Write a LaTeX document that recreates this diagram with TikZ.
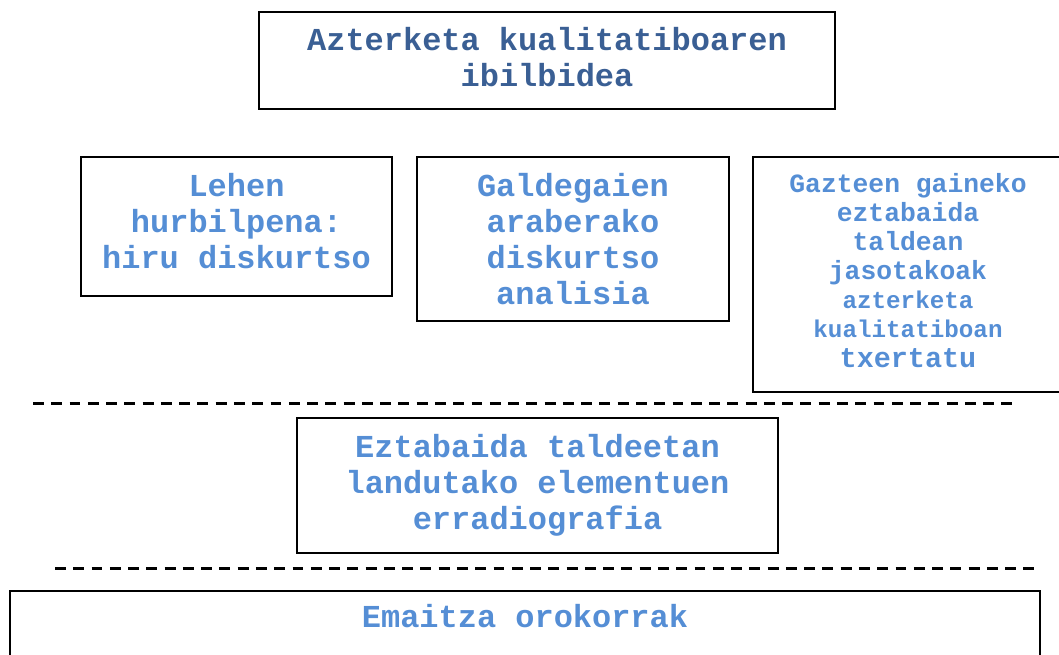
\documentclass[tikz,border=0pt]{standalone}
\usepackage{fontspec}
\setmonofont{Liberation Mono}
\definecolor{darkblue}{HTML}{3A5F94}
\definecolor{lightblue}{HTML}{558ED5}
\tikzset{
  stage/.style={draw, line width=1.1pt, text=lightblue, align=center, inner sep=0pt,
    font=\ttfamily\bfseries\fontsize{18.2}{20.4}\selectfont},
  cutline/.style={line width=1.7pt, dash pattern=on 6.2pt off 4.2pt}
}
\newcommand{\smallline}[1]{{\fontsize{13.8}{16.6}\selectfont #1}}
\begin{document}
\begin{tikzpicture}[x=0.02cm,y=-0.02cm]
\useasboundingbox (0,0) rectangle (1059,654);
\clip (0,0) rectangle (1059,654);
\node[stage, text=darkblue, minimum width=11.52cm, minimum height=1.94cm, text depth=4pt] (ibilbidea) at (547,60.5) {Azterketa kualitatiboaren\\ibilbidea};
\node[stage, minimum width=6.22cm, minimum height=2.78cm, text depth=6pt] (hurbilpena) at (236.5,226.5) {Lehen\\hurbilpena:\\hiru diskurtso};
\node[stage, minimum width=6.24cm, minimum height=3.28cm] (analisia) at (573,239) {Galdegaien\\araberako\\diskurtso\\analisia};
\node[stage, minimum width=6.2cm, minimum height=4.7cm, text depth=5pt,
  font=\ttfamily\bfseries\fontsize{15}{16.6}\selectfont] (txertatu) at (908,274.5)
  {Gazteen gaineko\\eztabaida\\taldean\\jasotakoak\\\smallline{azterketa}\\\smallline{kualitatiboan}\\{\fontsize{16.2}{16.6}\selectfont txertatu}};
\coordinate (lerroa1a) at (33,403);
\coordinate (lerroa1b) at (1015,403);
\draw[cutline] (lerroa1a) -- (lerroa1b);
\node[stage, minimum width=9.62cm, minimum height=2.7cm] (erradiografia) at (537.5,485.5) {Eztabaida taldeetan\\landutako elementuen\\erradiografia};
\coordinate (lerroa2a) at (55,568);
\coordinate (lerroa2b) at (1040,568);
\draw[cutline] (lerroa2a) -- (lerroa2b);
\node[stage, minimum width=20.6cm, minimum height=2cm, anchor=north,
  text depth=1.2cm, text height=0.65cm] (emaitzak) at (525,590) {Emaitza orokorrak};
\end{tikzpicture}
\end{document}
